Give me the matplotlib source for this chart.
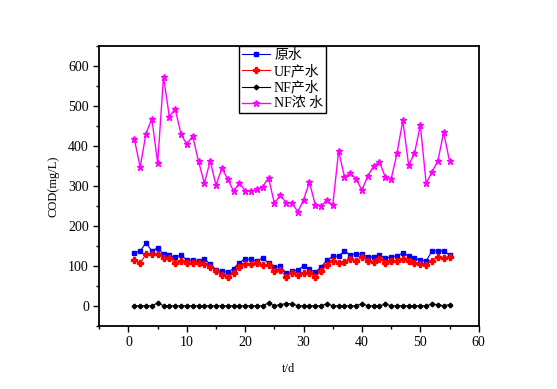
import numpy as np
import matplotlib
matplotlib.use("Agg")
import matplotlib.pyplot as plt
from matplotlib.ticker import MultipleLocator

plt.rcParams['font.family'] = ['Liberation Serif', 'Noto Sans CJK SC']

days = np.arange(1, 56)

raw = [132, 137, 157, 137, 145, 129, 126, 121, 127, 114,
       114, 111, 117, 104, 90, 86, 84, 93, 108, 117,
       116, 112, 120, 106, 96, 99, 81, 86, 89, 100,
       91, 84, 97, 114, 124, 124, 137, 127, 130, 129,
       122, 122, 127, 119, 122, 125, 132, 125, 119, 114,
       112, 137, 137, 137, 127]

uf = [114, 107, 129, 129, 129, 119, 120, 107, 113, 107,
      107, 107, 105, 97, 87, 77, 72, 81, 98, 104,
      104, 107, 103, 101, 87, 89, 73, 82, 78, 83,
      81, 72, 86, 101, 112, 108, 110, 117, 112, 122,
      112, 110, 117, 108, 112, 112, 116, 111, 108, 105,
      103, 113, 122, 119, 123]

nf = [0, 0, 0, 0, 7, 0, 0, 0, 0, 0,
      0, 0, 0, 0, 0, 0, 0, 0, 0, 0,
      0, 0, 0, 7, 0, 3, 5, 5, 0, 0,
      0, 0, 0, 5, 0, 0, 0, 0, 0, 5,
      0, 0, 0, 4, 0, 0, 0, 0, 0, 0,
      0, 4, 3, 0, 3]

nf_conc = [417, 347, 431, 468, 357, 573, 473, 493, 429, 404,
           425, 361, 307, 362, 302, 344, 317, 287, 307, 288,
           286, 291, 298, 320, 256, 277, 258, 258, 235, 265,
           309, 253, 249, 265, 251, 387, 323, 332, 317, 289,
           325, 349, 360, 322, 317, 381, 464, 352, 381, 452,
           306, 335, 362, 434, 362]

fig = plt.figure(figsize=(5.57, 3.89), dpi=100)
ax = fig.add_axes([0.1783, 0.1627, 0.6811, 0.7190])

ax.plot(days, raw, color='#0000cc', lw=0.8, marker='s', ms=2.6,
        mfc='#0000ff', mec='#0000ff', label='原水')
ax.plot(days, uf, color='#ff0000', lw=0.8, marker='P', ms=4.2,
        mfc='#ff0000', mec='#ff0000', label='UF产水')
ax.plot(days, nf, color='black', lw=0.8, marker='P', ms=3,
        mfc='black', mec='black', label='NF产水')
ax.plot(days, nf_conc, color='#ff00ff', lw=1.0, marker='*', ms=4.5,
        mfc='#ff00ff', mec='#ff00ff', label='NF浓 水')

ax.set_xlim(-5, 60)
ax.set_ylim(-50, 650)
ax.xaxis.set_major_locator(MultipleLocator(10))
ax.xaxis.set_minor_locator(MultipleLocator(5))
ax.yaxis.set_major_locator(MultipleLocator(100))
ax.yaxis.set_minor_locator(MultipleLocator(50))
ax.tick_params(which='major', direction='out', length=4, width=1, labelsize=10)
ax.tick_params(which='minor', direction='out', length=2.5, width=1)
ax.set_yticks(range(0, 700, 100))
ax.set_yticklabels([str(v) for v in range(0, 700, 100)])

for s in ax.spines.values():
    s.set_linewidth(1.3)

ax.set_xlabel('t/d', fontsize=9, labelpad=10)
ax.set_ylabel('COD(mg/L)', fontsize=9, labelpad=6)

leg = ax.legend(loc='upper left', bbox_to_anchor=(0.369, 1.0), borderaxespad=0,
                fancybox=False, framealpha=1, edgecolor='black', fontsize=10,
                handlelength=2.0, handletextpad=0.3, labelspacing=0.2,
                borderpad=0.2)
leg.get_frame().set_linewidth(1.0)

fig.savefig('out.png', dpi=100)
